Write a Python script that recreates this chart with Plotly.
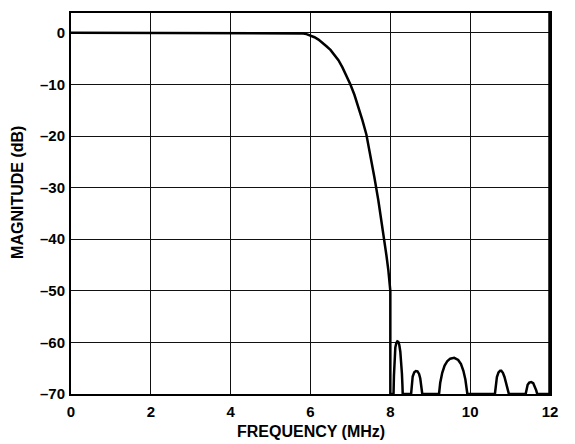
import plotly.graph_objects as go

# Filter magnitude response
freq_mhz = [0.0, 5.67, 5.75, 5.82, 5.9, 6.0, 6.1, 6.2, 6.3, 6.4, 6.5, 6.6, 6.7, 6.8, 6.9, 7.0,
            7.1, 7.2, 7.3, 7.4, 7.5, 7.6, 7.7, 7.8, 7.85, 7.9, 7.95, 8.0, 8.0, 8.08,
            8.09, 8.105, 8.125, 8.15, 8.175, 8.2, 8.225, 8.25, 8.27, 8.29, 8.303, 8.31,
            8.52, 8.535, 8.56, 8.6, 8.64, 8.68, 8.72, 8.75, 8.78, 8.8,
            9.22, 9.25, 9.3, 9.36, 9.43, 9.5, 9.6, 9.7, 9.77, 9.83, 9.88, 9.915, 9.93,
            10.62, 10.64, 10.67, 10.71, 10.75, 10.78, 10.82, 10.86, 10.9, 10.94, 10.97,
            11.39, 11.41, 11.44, 11.48, 11.53, 11.58, 11.62, 11.655, 11.68, 12.0]
magnitude_db = [0.0, 0.0, -0.05, -0.12, -0.25, -0.5, -0.85, -1.3, -1.9, -2.6, -3.3, -4.2, -5.3, -6.7, -8.3, -10.0,
                -12.0, -14.3, -16.9, -19.7, -23.5, -28.0, -32.5, -37.5, -40.0, -43.0, -46.0, -50.0, -70.0, -70.0,
                -66.5, -63.0, -61.0, -60.1, -59.8, -59.9, -60.5, -61.8, -63.5, -66.0, -68.3, -70.0,
                -70.0, -68.0, -66.6, -65.8, -65.55, -65.6, -66.1, -67.0, -68.4, -70.0,
                -70.0, -67.8, -65.9, -64.5, -63.6, -63.15, -63.0, -63.4, -64.2, -65.5, -67.2, -68.8, -70.0,
                -70.0, -68.3, -66.7, -65.8, -65.5, -65.5, -65.9, -66.7, -67.8, -69.0, -70.0,
                -70.0, -69.0, -68.2, -67.8, -67.7, -67.9, -68.5, -69.3, -70.0, -70.0]

x_ticks = [0, 2, 4, 6, 8, 10, 12]
x_ticktext = ["0", "2", "4", "6", "8", "10", "12"]
y_ticks = [0, -10, -20, -30, -40, -50, -60, -70]
y_ticktext = ["0", "–10", "–20", "–30", "–40", "–50", "–60", "–70"]

FONT = "Liberation Sans, Arial, sans-serif"

fig = go.Figure()
fig.add_trace(go.Scatter(x=freq_mhz, y=magnitude_db, mode="lines",
                         line=dict(color="#000000", width=2.5),
                         hoverinfo="skip", showlegend=False))

fig.update_layout(
    width=567, height=436,
    margin=dict(l=63, r=25, t=3, b=50),
    paper_bgcolor="white", plot_bgcolor="white",
    font=dict(family=FONT, color="#000000"),
    xaxis=dict(range=[0, 12], tickvals=x_ticks, ticktext=x_ticktext,
               showgrid=True, gridcolor="#111111", gridwidth=1,
               showline=True, linecolor="#000000", linewidth=2, mirror=True,
               ticks="outside", ticklen=3, tickcolor="rgba(0,0,0,0)",
               tickfont=dict(family=FONT, size=15, color="#000000", weight="bold"),
               zeroline=False, fixedrange=True),
    yaxis=dict(range=[-70, 3.85], tickvals=y_ticks, ticktext=y_ticktext,
               showgrid=True, gridcolor="#111111", gridwidth=1,
               showline=True, linecolor="#000000", linewidth=2, mirror=True,
               ticks="outside", ticklen=1, tickcolor="rgba(0,0,0,0)",
               tickfont=dict(family=FONT, size=15, color="#000000", weight="bold"),
               zeroline=False, fixedrange=True),
    shapes=[dict(type="line", xref="paper", yref="paper", x0=1, x1=1, y0=0, y1=1,
                 line=dict(color="#000000", width=3.5))],
    annotations=[
        dict(text="<b>FREQUENCY (MHz)</b>", xref="paper", yref="paper",
             x=0.5, y=-0.099, xanchor="center", yanchor="middle", showarrow=False,
             font=dict(family=FONT, size=16, color="#000000")),
        dict(text="<b>MAGNITUDE (dB)</b>", xref="paper", yref="paper",
             x=-0.113, y=0.53, xanchor="center", yanchor="middle", showarrow=False,
             textangle=-90, font=dict(family=FONT, size=16, color="#000000")),
    ],
)

fig.write_html("out.html")
